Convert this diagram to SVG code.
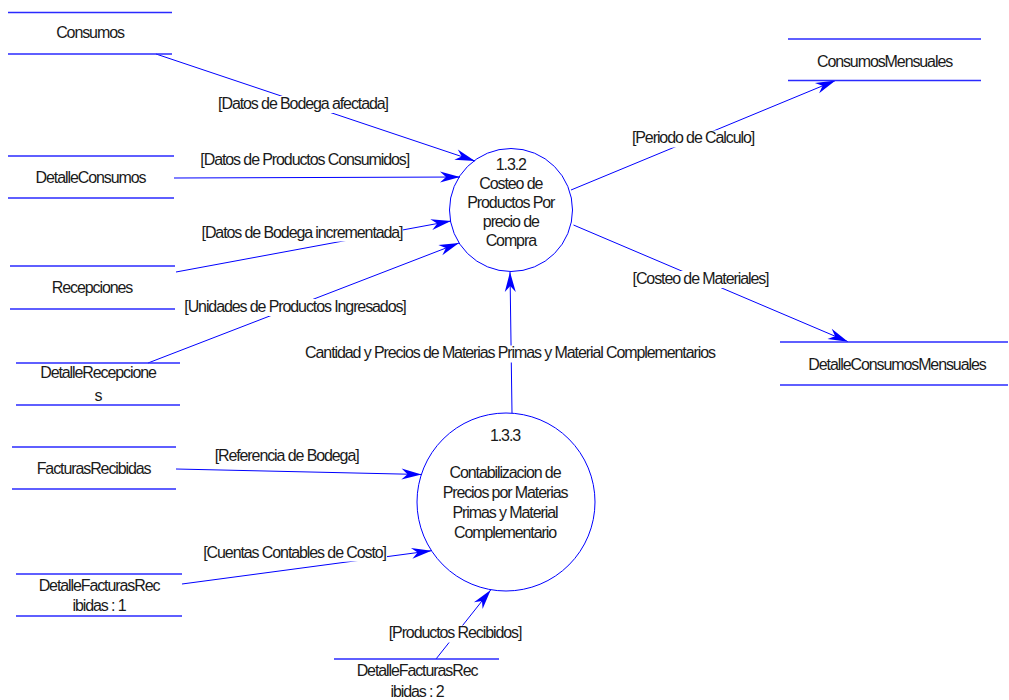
<svg xmlns="http://www.w3.org/2000/svg" width="1009" height="700" viewBox="0 0 1009 700">
  <style>
    text { font-family: "Liberation Sans", Arial, sans-serif; font-size: 16px; letter-spacing: -1.1px; fill: #1a1a1a; text-anchor: middle; }
    .store { stroke: #2a2aff; stroke-width: 1.3; fill: none; }
    .proc { stroke: #0000ff; stroke-width: 1; fill: none; }
    .flow { stroke: #0000ff; stroke-width: 1; fill: none; marker-end: url(#arrow); }
    .bg { fill: #ffffff; }
  </style>
  <defs>
    <marker id="arrow" viewBox="-21 -7 22 14" refX="0" refY="0" markerWidth="22" markerHeight="14" markerUnits="userSpaceOnUse" orient="auto">
      <path d="M0,0 L-20,-5.5 L-14,0 L-20,5.5 Z" fill="#0000ff"/>
    </marker>
  </defs>

  <!-- data flows -->
  <g id="connectors">
    <line class="flow" x1="156" y1="54" x2="475" y2="161"/>
    <line class="flow" x1="174" y1="178" x2="460" y2="177"/>
    <line class="flow" x1="176" y1="272" x2="451" y2="221"/>
    <line class="flow" x1="148" y1="363" x2="459" y2="243"/>
    <line class="flow" x1="571" y1="190" x2="835.5" y2="80.5"/>
    <line class="flow" x1="573.5" y1="225" x2="848" y2="341.7"/>
    <line class="flow" x1="512" y1="413" x2="510" y2="272"/>
    <line class="flow" x1="176" y1="469" x2="421.5" y2="474.5"/>
    <line class="flow" x1="182" y1="584" x2="431.5" y2="550.7"/>
    <line class="flow" x1="436" y1="659" x2="490.7" y2="590"/>

    <!-- flow labels -->
    <rect class="bg" x="218" y="96" width="170" height="17"/>
    <text x="303" y="108.8">[Datos de Bodega afectada]</text>
    <text x="304.7" y="165.1">[Datos de Productos Consumidos]</text>
    <rect class="bg" x="201" y="225.5" width="202" height="16"/>
    <text x="302" y="238.3">[Datos de Bodega incrementada]</text>
    <rect class="bg" x="182" y="299" width="226" height="17"/>
    <text x="295" y="311.8">[Unidades de Productos Ingresados]</text>
    <rect class="bg" x="629.5" y="130.5" width="127" height="17"/>
    <text x="693" y="143.3">[Periodo de Calculo]</text>
    <rect class="bg" x="630" y="271" width="141" height="17"/>
    <text x="700.5" y="283.8">[Costeo de Materiales]</text>
    <rect class="bg" x="302" y="345.5" width="416" height="17"/>
    <text x="510" y="358.3">Cantidad y Precios de Materias Primas y Material Complementarios</text>
    <text x="286.6" y="460.8">[Referencia de Bodega]</text>
    <rect class="bg" x="202" y="545.5" width="185" height="16"/>
    <text x="294.6" y="558.3">[Cuentas Contables de Costo]</text>
    <rect class="bg" x="386.5" y="625.5" width="136" height="17"/>
    <text x="455" y="638.3">[Productos Recibidos]</text>
  </g>

  <!-- processes -->
  <g id="p132">
    <circle class="proc" cx="511" cy="210" r="61.5"/>
    <text x="510.8" y="170">1.3.2</text>
    <text x="510.8" y="189.3">Costeo de</text>
    <text x="510.8" y="208.3">Productos Por</text>
    <text x="510.8" y="227.3">precio de</text>
    <text x="510.8" y="246.3">Compra</text>
  </g>
  <g id="p133">
    <circle class="proc" cx="506" cy="502" r="89"/>
    <text x="505" y="440.8">1.3.3</text>
    <text x="505" y="477.8">Contabilizacion de</text>
    <text x="505" y="497.8">Precios por Materias</text>
    <text x="505" y="518.3">Primas y Material</text>
    <text x="505" y="538.3">Complementario</text>
  </g>

  <!-- data stores -->
  <g id="consumos">
    <line class="store" x1="8" y1="12.5" x2="172" y2="12.5"/>
    <line class="store" x1="8" y1="54" x2="172" y2="54"/>
    <text x="90" y="38.2">Consumos</text>
  </g>
  <g id="detalleConsumos">
    <line class="store" x1="8" y1="156" x2="174" y2="156"/>
    <line class="store" x1="8" y1="198" x2="174" y2="198"/>
    <text x="90.5" y="183.3">DetalleConsumos</text>
  </g>
  <g id="recepciones">
    <line class="store" x1="10" y1="266" x2="175" y2="266"/>
    <line class="store" x1="10" y1="309" x2="175" y2="309"/>
    <text x="92" y="293.3">Recepciones</text>
  </g>
  <g id="detalleRecepciones">
    <line class="store" x1="16" y1="363" x2="180" y2="363"/>
    <line class="store" x1="16" y1="405" x2="180" y2="405"/>
    <text x="98" y="378.3">DetalleRecepcione</text>
    <text x="98" y="400.8">s</text>
  </g>
  <g id="facturasRecibidas">
    <line class="store" x1="12" y1="447" x2="176" y2="447"/>
    <line class="store" x1="12" y1="489" x2="176" y2="489"/>
    <text x="93.6" y="473.8">FacturasRecibidas</text>
  </g>
  <g id="detalleFacturasRecibidas1">
    <line class="store" x1="16" y1="574" x2="182" y2="574"/>
    <line class="store" x1="16" y1="616" x2="182" y2="616"/>
    <text x="99" y="590.8">DetalleFacturasRec</text>
    <text x="99" y="610.8">ibidas : 1</text>
  </g>
  <g id="detalleFacturasRecibidas2">
    <line class="store" x1="334" y1="659" x2="499" y2="659"/>
    <line class="store" x1="334" y1="701" x2="499" y2="701"/>
    <text x="417" y="675.8">DetalleFacturasRec</text>
    <text x="417" y="696.8">ibidas : 2</text>
  </g>
  <g id="consumosMensuales">
    <line class="store" x1="788" y1="39" x2="981" y2="39"/>
    <line class="store" x1="788" y1="80.5" x2="981" y2="80.5"/>
    <text x="884.5" y="66.8">ConsumosMensuales</text>
  </g>
  <g id="detalleConsumosMensuales">
    <line class="store" x1="780" y1="342" x2="1008" y2="342"/>
    <line class="store" x1="780" y1="385" x2="1008" y2="385"/>
    <text x="897" y="369.8">DetalleConsumosMensuales</text>
  </g>
</svg>
